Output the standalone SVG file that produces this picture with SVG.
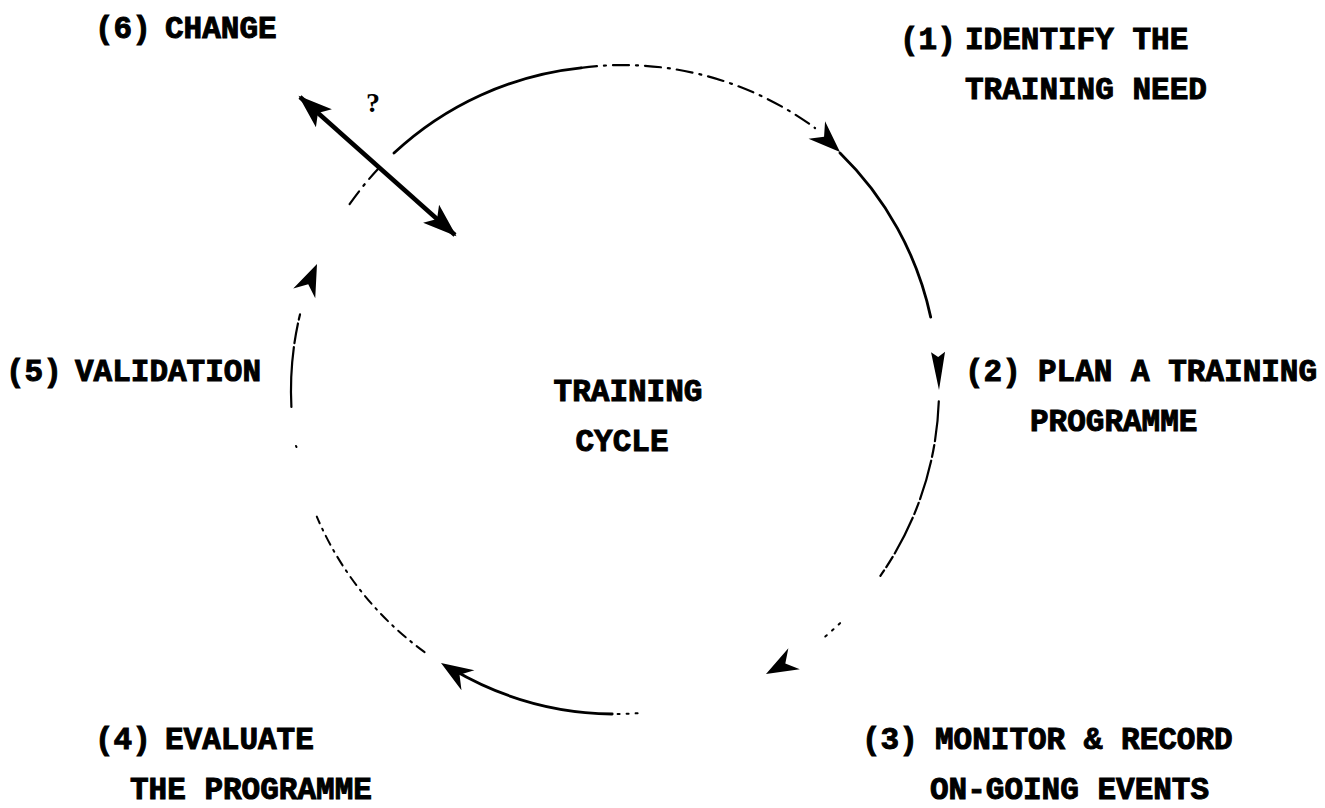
<svg xmlns="http://www.w3.org/2000/svg" width="1325" height="808" viewBox="0 0 1325 808">
<style>
.t{font-family:"Liberation Mono","Courier New",monospace;font-weight:bold;font-size:31px;fill:#000;stroke:#000;stroke-width:1px}
.arc{fill:none;stroke:#000;stroke-linecap:round}
.solid{stroke-width:2.8}
.dd{stroke-width:2.2;stroke-dasharray:16 7 2 7}
.dl{stroke-width:2.2;stroke-dasharray:40 4 12 4}
.dot{stroke-width:2;stroke-dasharray:2 7}
.hd{fill:none;stroke:none}
</style>
<defs>
<marker id="ah" markerUnits="userSpaceOnUse" markerWidth="44" markerHeight="34" refX="0" refY="0" viewBox="-38 -17 44 34" orient="auto">
<path d="M0,0 L-32,-12 L-22,0 L-32,12 Z" fill="#000"/>
</marker>
<marker id="ah2" markerUnits="userSpaceOnUse" markerWidth="46" markerHeight="34" refX="0" refY="0" viewBox="-42 -17 46 34" orient="auto-start-reverse">
<path d="M2,0 L-32,-12 L-24,0 L-32,12 Z" fill="#000"/>
</marker>
<marker id="ahn" markerUnits="userSpaceOnUse" markerWidth="44" markerHeight="20" refX="0" refY="0" viewBox="-42 -10 44 20" orient="auto">
<path d="M0,0 L-38,-7 L-33,0 L-38,7 Z" fill="#000"/>
</marker>
</defs>
<g id="connectors">
<path class="arc dd" d="M349.6,204.2 A324,324 0 0 1 378,169"/>
<path class="arc solid" d="M394,153 A324,324 0 0 1 581.1,67.8"/>
<path class="arc dd" d="M581.1,67.8 A324,324 0 0 1 815,128"/>
<path class="hd" d="M821.9,134.8 L840,152" marker-end="url(#ah)"/>
<path class="arc solid" d="M840,153 A324,324 0 0 1 930.7,317.1"/>
<path class="hd" d="M938,350 L939,390" marker-end="url(#ahn)"/>
<path class="arc dl" d="M938.8,401.3 A324,324 0 0 1 880.4,575.8"/>
<path class="arc dot" d="M840.1,623.1 A324,324 0 0 1 823.3,638.2"/>
<path class="hd" d="M788,662 L766,674" marker-end="url(#ah)"/>
<path class="arc dot" d="M637.6,713.2 A324,324 0 0 1 614,714"/>
<path class="arc solid" d="M612.2,714 A324,324 0 0 1 452,669"/>
<path class="hd" d="M466,679 L441,663" marker-end="url(#ah)"/>
<path class="arc dd" d="M424.6,652.1 A324,324 0 0 1 316.8,516.6" style="stroke-dasharray:10 6 2 6;stroke-width:2"/>
<path class="arc dot" d="M296.5,447 A324,324 0 0 1 296,446"/>
<path class="arc dl" d="M291.4,407 A324,324 0 0 1 300,314.4" style="stroke-dasharray:60 4 20 4"/>
<path class="hd" d="M307,287 L317,264" marker-end="url(#ah)"/>
<path d="M300,97 L455,235" fill="none" stroke="#000" stroke-width="4.5" marker-start="url(#ah2)" marker-end="url(#ah2)"/>
</g>
<g id="n6"><text class="t" x="95" y="38">(6)<tspan x="165">CHANGE</tspan></text></g>
<g id="q"><text x="366" y="112" style="font-family:'Liberation Serif',serif;font-weight:bold;font-size:28px">?</text></g>
<g id="n1"><text class="t" x="900" y="49">(1)<tspan x="965">IDENTIFY THE</tspan></text><text class="t" x="965" y="99">TRAINING NEED</text></g>
<g id="n2"><text class="t" x="965" y="381">(2)<tspan x="1038">PLAN A TRAINING</tspan></text><text class="t" x="1030" y="431">PROGRAMME</text></g>
<g id="n3"><text class="t" x="862" y="749">(3)<tspan x="935">MONITOR &amp; RECORD</tspan></text><text class="t" x="930" y="799">ON-GOING EVENTS</text></g>
<g id="n4"><text class="t" x="95" y="749">(4)<tspan x="165">EVALUATE</tspan></text><text class="t" x="130" y="799">THE PROGRAMME</text></g>
<g id="n5"><text class="t" x="6" y="381">(5)<tspan x="75">VALIDATION</tspan></text></g>
<g id="center"><text class="t" x="628" y="401" text-anchor="middle">TRAINING</text><text class="t" x="622" y="451" text-anchor="middle">CYCLE</text></g>
</svg>
